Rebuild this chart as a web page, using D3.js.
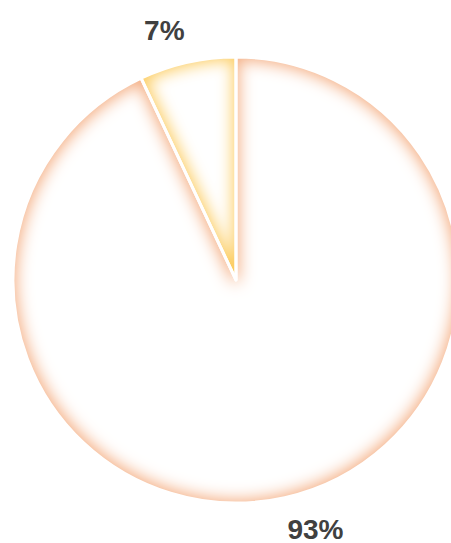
<!DOCTYPE html>
<html><head><meta charset="utf-8">
<script src="https://cdn.jsdelivr.net/npm/d3@7"></script>
<style>html,body{margin:0;padding:0;background:#fff;}svg{display:block;}</style>
</head><body>
<script>
const categories = ["Slice A", "Slice B"];
const values = [93, 7];
const labels = ["93%", "7%"];
const colors = ["#f4ab7e", "#fccb5c"];

const W = 451, H = 543;
const cx = 236, cy = 280, R = 223;

const svg = d3.select("body").append("svg").attr("width", W).attr("height", H);
const defs = svg.append("defs");
const f = defs.append("filter").attr("id", "inner")
  .attr("x", "-20%").attr("y", "-20%").attr("width", "140%").attr("height", "140%");
f.append("feMorphology").attr("operator", "erode").attr("radius", 3).attr("in", "SourceGraphic").attr("result", "e");
f.append("feGaussianBlur").attr("in", "e").attr("stdDeviation", 8);

const data = categories.map((c, i) => ({ c, v: values[i], label: labels[i], color: colors[i] }));
const pie = d3.pie().value(d => d.v);
const arcs = pie(data);
const arc = d3.arc().innerRadius(0).outerRadius(R);

const g = svg.append("g").attr("transform", `translate(${cx},${cy})`);

arcs.forEach((a, i) => {
  defs.append("clipPath").attr("id", "clip" + i).append("path").attr("d", arc(a));
});

const slices = g.selectAll("g.slice").data(arcs).join("g").attr("class", "slice");
slices.append("path").attr("d", arc).attr("fill", d => d.data.color);
slices.append("g").attr("clip-path", (d, i) => `url(#clip${i})`)
  .append("path").attr("d", arc).attr("fill", "#fff").attr("filter", "url(#inner)");
// separators
g.selectAll("path.sep").data(arcs).join("path").attr("class", "sep")
  .attr("d", arc).attr("fill", "none").attr("stroke", "#fff").attr("stroke-width", 3)
  .attr("stroke-linejoin", "round");

const LR = 236;
g.selectAll("text.lbl").data(arcs).join("text").attr("class", "lbl")
  .each(function(d) {
    const m = (d.startAngle + d.endAngle) / 2;
    const x = LR * Math.sin(m), y = -LR * Math.cos(m);
    const top = Math.cos(m) > 0;
    d3.select(this)
      .attr("x", x)
      .attr("y", top ? y - 10 : y + 29)
      .attr("text-anchor", Math.sin(m) < 0 ? "end" : "start");
  })
  .attr("font-family", "Liberation Sans, Arial, sans-serif")
  .attr("font-weight", "bold").attr("font-size", 28).attr("fill", "#404040")
  .text(d => d.data.label);
</script>
</body></html>
